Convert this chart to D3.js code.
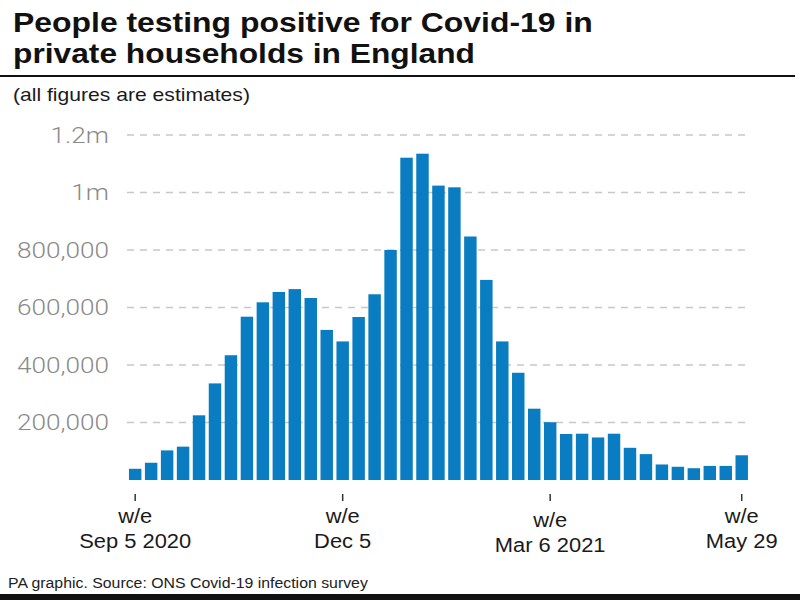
<!DOCTYPE html>
<html><head><meta charset="utf-8">
<script src="https://cdn.jsdelivr.net/npm/d3@7"></script>
<style>html,body{margin:0;padding:0;background:#fff;}svg{display:block;}</style>
</head><body>
<svg id="chart" width="800" height="600"></svg>
<script>
const weeks = ["2020-09-05","2020-09-12","2020-09-19","2020-09-26","2020-10-03","2020-10-10","2020-10-17","2020-10-24","2020-10-31",
"2020-11-07","2020-11-14","2020-11-21","2020-11-28","2020-12-05","2020-12-12","2020-12-19","2020-12-26","2021-01-02","2021-01-09",
"2021-01-16","2021-01-23","2021-01-30","2021-02-06","2021-02-13","2021-02-20","2021-02-27","2021-03-06","2021-03-13","2021-03-20",
"2021-03-27","2021-04-03","2021-04-10","2021-04-17","2021-04-24","2021-05-01","2021-05-08","2021-05-15","2021-05-22","2021-05-29"];
const positives = [39000,60000,103000,116000,225000,336000,434000,568000,618000,654000,664000,633000,522000,482000,567000,646000,800000,
1121000,1135000,1024000,1018000,847000,696000,482000,373000,248000,201000,160000,161000,148000,161000,112000,90000,54000,46000,41000,49000,49000,86000];
const yTicks = [200000,400000,600000,800000,1000000,1200000];
const yTickLabels = ["200,000","400,000","600,000","800,000","1m","1.2m"];
const xTickWeeks = ["2020-09-05","2020-12-05","2021-03-06","2021-05-29"];
const xTickLine1 = ["w/e","w/e","w/e","w/e"];
const xTickLine2 = ["Sep 5 2020","Dec 5","Mar 6 2021","May 29"];
const titleLines = ["People testing positive for Covid-19 in","private households in England"];
const subtitle = "(all figures are estimates)";
const footer = "PA graphic. Source: ONS Covid-19 infection survey";

const svg = d3.select("#chart");
const x = d3.scaleBand().domain(weeks).range([127.2, 749.7]).paddingInner(0.22).paddingOuter(0.11);
const y = d3.scaleLinear().domain([0, 1200000]).range([480, 135]);

function stretchText(sel, targetW){
  const w = sel.node().getComputedTextLength();
  return targetW / w;
}

// title
const titleWidths = [580, 462];
const titleBase = [31.5, 63];
titleLines.forEach((t,i)=>{
  const el = svg.append("text").attr("font-family","Liberation Sans, Arial, sans-serif").attr("font-weight","bold")
    .attr("font-size",28.5).attr("fill","#111").text(t);
  const sx = stretchText(el, titleWidths[i]);
  el.attr("transform",`translate(13,${titleBase[i]}) scale(${sx},1)`);
});
svg.append("rect").attr("x",0).attr("y",75).attr("width",795).attr("height",2).attr("fill","#111");

const sub = svg.append("text").attr("font-family","Liberation Sans, Arial, sans-serif").attr("font-size",19)
  .attr("fill","#1a1a1a").text(subtitle);
sub.attr("transform",`translate(13,101) scale(${stretchText(sub,237)},1)`);

// grid
svg.append("g").selectAll("line").data(yTicks).join("line")
  .attr("x1",127).attr("x2",750).attr("y1",d=>y(d)).attr("y2",d=>y(d))
  .attr("stroke","#c8c8c8").attr("stroke-width",1.5).attr("stroke-dasharray","7,6");

// y labels
const yl = svg.append("g").selectAll("text").data(yTicks).join("text")
  .attr("font-family","Roboto, sans-serif").attr("font-weight",300).attr("font-size",22)
  .attr("fill","#8a8a8a").attr("text-anchor","end").attr("dy","0.36em").text((d,i)=>yTickLabels[i]);
const ysx = stretchText(yl.filter((d,i)=>i===3), 92);
yl.attr("transform",d=>`translate(109,${y(d)}) scale(${ysx},1)`);

// bars
svg.append("g").selectAll("rect").data(weeks).join("rect")
  .attr("x",d=>x(d)).attr("width",x.bandwidth())
  .attr("y",(d,i)=>y(positives[i])).attr("height",(d,i)=>y(0)-y(positives[i]))
  .attr("fill","#0a7cc1");

// x ticks
const xg = svg.append("g");
const cx = d=>x(d)+x.bandwidth()/2;
const dyOff = [0,0,4,0];
xg.selectAll("line").data(xTickWeeks).join("line")
  .attr("x1",cx).attr("x2",cx).attr("y1",494).attr("y2",501).attr("stroke","#333").attr("stroke-width",1.5);
const l1 = xg.selectAll("text.l1").data(xTickWeeks).join("text").attr("class","l1")
  .attr("font-family","Liberation Sans, Arial, sans-serif").attr("font-size",21).attr("fill","#1a1a1a")
  .attr("text-anchor","middle").text((d,i)=>xTickLine1[i]);
const l2 = xg.selectAll("text.l2").data(xTickWeeks).join("text").attr("class","l2")
  .attr("font-family","Liberation Sans, Arial, sans-serif").attr("font-size",21).attr("fill","#1a1a1a")
  .attr("text-anchor","middle").text((d,i)=>xTickLine2[i]);
const xsx = stretchText(l2.filter((d,i)=>i===0), 112);
l1.attr("transform",(d,i)=>`translate(${cx(d)},${523+dyOff[i]}) scale(${xsx},1)`);
l2.attr("transform",(d,i)=>`translate(${cx(d)},${548+dyOff[i]}) scale(${xsx},1)`);

// footer
const ft = svg.append("text").attr("font-family","Liberation Sans, Arial, sans-serif").attr("font-size",15)
  .attr("fill","#222").text(footer);
ft.attr("transform",`translate(8,588) scale(${stretchText(ft,360)},1)`);
svg.append("rect").attr("x",0).attr("y",594).attr("width",800).attr("height",6).attr("fill","#111");
</script>
</body></html>
